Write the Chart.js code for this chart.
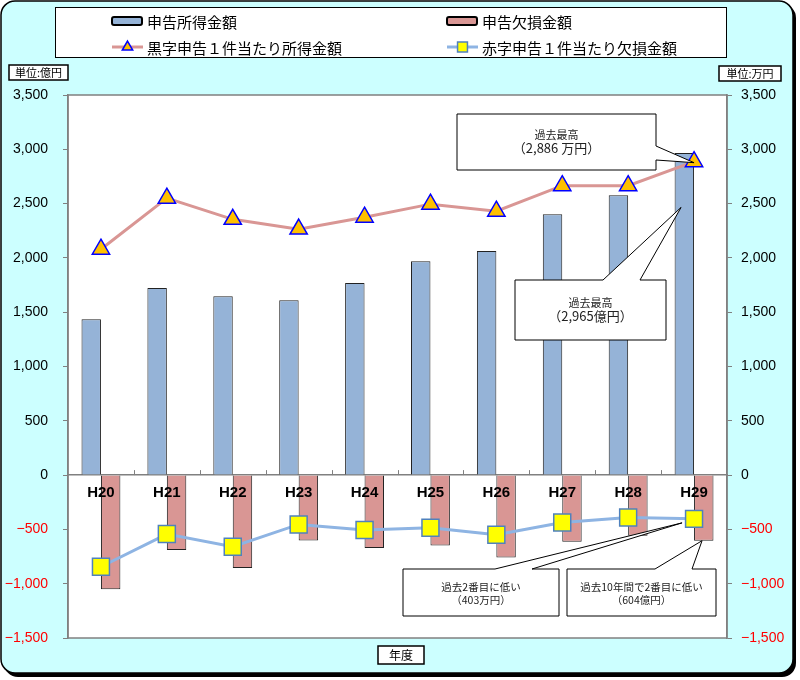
<!DOCTYPE html>
<html lang="ja">
<head>
<meta charset="utf-8">
<title>申告所得金額・申告欠損金額の推移</title>
<script src="https://cdn.jsdelivr.net/npm/chart.js@4.4.1/dist/chart.umd.min.js"></script>
<style>
  html, body { margin: 0; padding: 0; background: #fff; }
  #wrap { width: 800px; height: 680px; }
</style>
</head>
<body>
<div id="wrap"><canvas id="chart" width="800" height="680"></canvas></div>
<script>
// Data
const years = ['H20', 'H21', 'H22', 'H23', 'H24', 'H25', 'H26', 'H27', 'H28', 'H29'];
const incomeTotal = [1436, 1722, 1648, 1611, 1768, 1970, 2063, 2403, 2578, 2965];      // 億円
const lossTotal = [-1050, -690, -856, -602, -672, -648, -758, -614, -559, -604];        // 億円
const incomePerCase = [2080, 2550, 2355, 2265, 2375, 2495, 2430, 2665, 2665, 2886];   // 万円
const lossPerCase = [-844, -543, -660, -454, -506, -485, -550, -436, -390, -403];       // 万円
const axisTicks = { min: -1500, max: 3500, step: 500 };

const CJK = '"Noto Sans CJK JP", sans-serif';
const NUM = '"Liberation Sans", Arial, sans-serif';

const BLUE_BAR = '#95b3d7';
const RED_BAR = '#d99694';

function formatTick(v) {
    return (v < 0 ? '\u2212' : '') + Math.abs(v).toLocaleString('en-US');
}

function tickColor(ctx) {
    return ctx.tick && ctx.tick.value < 0 ? '#ff0000' : '#000000';
}

function roundRect(ctx, x, y, w, h, r) {
    ctx.beginPath();
    ctx.moveTo(x + r, y);
    ctx.lineTo(x + w - r, y);
    ctx.arcTo(x + w, y, x + w, y + r, r);
    ctx.lineTo(x + w, y + h - r);
    ctx.arcTo(x + w, y + h, x + w - r, y + h, r);
    ctx.lineTo(x + r, y + h);
    ctx.arcTo(x, y + h, x, y + h - r, r);
    ctx.lineTo(x, y + r);
    ctx.arcTo(x, y, x + r, y, r);
    ctx.closePath();
}

// Text in a small white box (unit labels, axis title)
function labelBox(ctx, x, y, w, h, text, size) {
    ctx.fillStyle = '#fff';
    ctx.fillRect(x, y, w, h);
    ctx.strokeStyle = '#000';
    ctx.lineWidth = 1.5;
    ctx.strokeRect(x, y, w, h);
    ctx.fillStyle = '#000';
    ctx.font = size + 'px ' + CJK;
    ctx.textAlign = 'center';
    ctx.textBaseline = 'middle';
    ctx.fillText(text, x + w / 2, y + h / 2 + 0.5);
}

// Speech-bubble callout with a wedge pointing at tip
function callout(ctx, box, side, b1, b2, tip, lines) {
    const { x, y, w, h } = box;
    ctx.beginPath();
    ctx.moveTo(x, y);
    if (side === 'top') {
        ctx.lineTo(b1, y);
        ctx.lineTo(tip.x, tip.y);
        ctx.lineTo(b2, y);
    }
    ctx.lineTo(x + w, y);
    if (side === 'right') {
        ctx.lineTo(x + w, b1);
        ctx.lineTo(tip.x, tip.y);
        ctx.lineTo(x + w, b2);
    }
    ctx.lineTo(x + w, y + h);
    ctx.lineTo(x, y + h);
    ctx.closePath();
    ctx.fillStyle = '#fff';
    ctx.fill();
    ctx.strokeStyle = '#000';
    ctx.lineWidth = 1;
    ctx.stroke();

    ctx.fillStyle = '#222';
    ctx.textAlign = 'center';
    ctx.textBaseline = 'middle';
    lines.forEach(l => {
        ctx.font = l.size + 'px ' + CJK;
        ctx.fillText(l.text, x + w / 2, y + l.dy);
    });
}

const framePlugin = {
    id: 'frame',
    beforeDraw(chart) {
        const ctx = chart.ctx;
        const a = chart.chartArea;
        ctx.save();
        ctx.fillStyle = '#fff';
        ctx.fillRect(0, 0, chart.width, chart.height);
        // outer panel with shadow
        ctx.fillStyle = '#000';
        roundRect(ctx, 4, 4, 792, 673, 14);
        ctx.fill();
        ctx.fillStyle = '#ccffff';
        roundRect(ctx, 1, 1, 792, 672, 14);
        ctx.fill();
        ctx.lineWidth = 1.5;
        ctx.strokeStyle = '#000';
        ctx.stroke();
        // plot area
        ctx.fillStyle = '#fff';
        ctx.fillRect(a.left, a.top, a.right - a.left, a.bottom - a.top);
        ctx.strokeStyle = '#808080';
        ctx.lineWidth = 1.5;
        ctx.strokeRect(a.left, a.top, a.right - a.left, a.bottom - a.top);
        ctx.restore();
    },
    beforeDatasetsDraw(chart) {
        // small marks between categories on the zero line
        const ctx = chart.ctx;
        const xs = chart.scales.x;
        const y0 = chart.scales.y.getPixelForValue(0);
        ctx.save();
        ctx.strokeStyle = '#808080';
        ctx.lineWidth = 1;
        for (let i = 1; i < years.length; i++) {
            const bx = Math.round((xs.getPixelForValue(i - 1) + xs.getPixelForValue(i)) / 2) + 0.5;
            ctx.beginPath();
            ctx.moveTo(bx, y0);
            ctx.lineTo(bx, y0 - 5);
            ctx.stroke();
        }
        ctx.restore();
    },
    afterDraw(chart) {
        const ctx = chart.ctx;
        const xs = chart.scales.x;
        const ys = chart.scales.y;
        const ds = chart.data.datasets;
        ctx.save();

        // legend
        ctx.fillStyle = '#fff';
        ctx.fillRect(55, 7, 671, 50);
        ctx.strokeStyle = '#000';
        ctx.lineWidth = 1;
        ctx.strokeRect(55.5, 7.5, 671, 50);
        const legendPos = [
            { x: 112, y: 21 }, { x: 447, y: 21 },
            { x: 112, y: 47 }, { x: 447, y: 47 }
        ];
        ds.forEach((d, i) => {
            const p = legendPos[i];
            if (d.type === 'line') {
                ctx.strokeStyle = d.borderColor;
                ctx.lineWidth = 3;
                ctx.beginPath();
                ctx.moveTo(p.x, p.y);
                ctx.lineTo(p.x + 31, p.y);
                ctx.stroke();
                ctx.fillStyle = d.pointBackgroundColor;
                ctx.strokeStyle = d.pointBorderColor;
                ctx.lineWidth = 1.5;
                Chart.helpers.drawPoint(ctx, {
                    pointStyle: d.pointStyle,
                    radius: d.pointStyle === 'rect' ? 7 : 6,
                    borderWidth: 1.5
                }, p.x + 15.5, p.y);
            } else {
                ctx.fillStyle = d.backgroundColor;
                ctx.strokeStyle = '#000';
                ctx.lineWidth = 2;
                roundRect(ctx, p.x, p.y - 4, 30, 8, 2);
                ctx.fill();
                ctx.stroke();
            }
            ctx.fillStyle = '#000';
            ctx.font = '15px ' + CJK;
            ctx.textAlign = 'left';
            ctx.textBaseline = 'middle';
            ctx.fillText(d.label, p.x + 35, p.y + 1);
        });

        // unit labels and axis title
        labelBox(ctx, 9, 65, 59, 15, '単位:億円', 11);
        labelBox(ctx, 719, 66, 62, 15, '単位:万円', 11);
        labelBox(ctx, 378, 646, 46, 18, '年度', 12);

        // callouts, anchored to the H29 values
        const last = years.length - 1;
        const xc = xs.getPixelForValue(last);
        callout(ctx, { x: 457, y: 114, w: 199, h: 56 }, 'right', 146, 160,
            { x: xc, y: ys.getPixelForValue(incomePerCase[last]) + 1 },
            [{ text: '過去最高', size: 11, dy: 21 },
             { text: '（2,886 万円）', size: 13, dy: 34 }]);
        callout(ctx, { x: 515, y: 280, w: 151, h: 60 }, 'top', 603, 640,
            { x: xc - 13, y: ys.getPixelForValue(incomeTotal[last] - 500) },
            [{ text: '過去最高', size: 11, dy: 23 },
             { text: '（2,965億円）', size: 13, dy: 36 }]);
        callout(ctx, { x: 403, y: 569, w: 156, h: 47 }, 'top', 495, 532,
            { x: xc - 12, y: ys.getPixelForValue(lossPerCase[last]) + 4 },
            [{ text: '過去2番目に低い', size: 10.5, dy: 18 },
             { text: '（403万円）', size: 10.5, dy: 31 }]);
        callout(ctx, { x: 567, y: 569, w: 149, h: 47 }, 'top', 655, 692,
            { x: xc + 8, y: ys.getPixelForValue(lossTotal[last]) },
            [{ text: '過去10年間で2番目に低い', size: 10.5, dy: 18 },
             { text: '（604億円）', size: 10.5, dy: 31 }]);

        ctx.restore();
    }
};

const yAxisBase = {
    min: axisTicks.min,
    max: axisTicks.max,
    grid: { display: true, drawOnChartArea: false, tickLength: 5, color: '#808080', lineWidth: 1 },
    border: { display: true, color: '#808080', width: 1.5 },
    ticks: {
        stepSize: axisTicks.step,
        font: { family: NUM, size: 14 },
        color: tickColor,
        callback: formatTick
    }
};

new Chart(document.getElementById('chart'), {
    type: 'bar',
    data: {
        labels: years,
        datasets: [
            {
                type: 'bar',
                label: '申告所得金額',
                data: incomeTotal,
                backgroundColor: BLUE_BAR,
                borderColor: '#222',
                borderWidth: 1,
                categoryPercentage: 0.59,
                barPercentage: 1.0,
                yAxisID: 'y',
                order: 1
            },
            {
                type: 'bar',
                label: '申告欠損金額',
                data: lossTotal,
                backgroundColor: RED_BAR,
                borderColor: '#222',
                borderWidth: 1,
                categoryPercentage: 0.59,
                barPercentage: 1.0,
                yAxisID: 'y',
                order: 1
            },
            {
                type: 'line',
                label: '黒字申告１件当たり所得金額',
                data: incomePerCase,
                borderColor: '#d99694',
                borderWidth: 3,
                pointStyle: 'triangle',
                pointRadius: 10,
                pointBackgroundColor: '#ffc000',
                pointBorderColor: '#0000ff',
                pointBorderWidth: 1.5,
                tension: 0,
                yAxisID: 'y2',
                order: 0
            },
            {
                type: 'line',
                label: '赤字申告１件当たり欠損金額',
                data: lossPerCase,
                borderColor: '#8eb4e3',
                borderWidth: 3,
                pointStyle: 'rect',
                pointRadius: 12,
                pointBackgroundColor: '#ffff00',
                pointBorderColor: '#4f81bd',
                pointBorderWidth: 1.5,
                tension: 0,
                yAxisID: 'y2',
                order: 0
            }
        ]
    },
    options: {
        responsive: false,
        animation: false,
        layout: { padding: { left: 0, right: 0, top: 95, bottom: 42 } },
        plugins: {
            legend: { display: false },
            tooltip: { enabled: false }
        },
        scales: {
            x: {
                position: { y: 0 },
                grid: { display: false, drawTicks: false },
                border: { display: true, color: '#808080', width: 1.5 },
                ticks: {
                    font: { family: NUM, size: 15, weight: 'bold' },
                    color: '#000',
                    padding: 9,
                    z: 1
                }
            },
            y: Object.assign({}, yAxisBase, {
                position: 'left',
                ticks: Object.assign({}, yAxisBase.ticks, { padding: 15 }),
                afterFit: s => { s.width = 68; }
            }),
            y2: Object.assign({}, yAxisBase, {
                position: 'right',
                ticks: Object.assign({}, yAxisBase.ticks, { padding: 9 }),
                afterFit: s => { s.width = 73; }
            })
        }
    },
    plugins: [framePlugin]
});
</script>
</body>
</html>
